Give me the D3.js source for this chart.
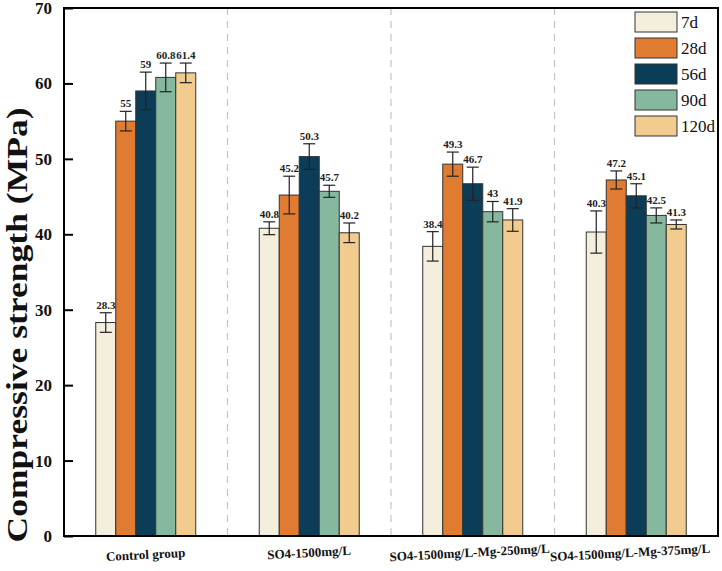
<!DOCTYPE html>
<html>
<head>
  <meta charset="utf-8">
  <title>Compressive strength</title>
  <script src="https://cdn.jsdelivr.net/npm/d3@7"></script>
  <style>
    body { margin: 0; background: #fff; }
    text { font-family: "Liberation Serif", "Times New Roman", serif; }
  </style>
</head>
<body>
  <svg width="722" height="571" id="mainsvg"></svg>
  <script>
    const svg = d3.select('#mainsvg');
    const margin = { top: 8, right: 4, bottom: 35, left: 64 };
    const width = +svg.attr('width');
    const height = +svg.attr('height');
    const innerWidth = width - margin.left - margin.right;
    const innerHeight = height - margin.top - margin.bottom;
    const g = svg.append('g').attr('transform', `translate(${margin.left}, ${margin.top})`);

    // data
    const groups = ['Control group', 'SO4-1500mg/L', 'SO4-1500mg/L-Mg-250mg/L', 'SO4-1500mg/L-Mg-375mg/L'];
    const ages = ['7d', '28d', '56d', '90d', '120d'];
    const colors = ['#F3EFDC', '#E07B32', '#0B3D59', '#86B8A0', '#F2CB8E'];
    const strength7d = [28.3, 40.8, 38.4, 40.3];
    const strength28d = [55, 45.2, 49.3, 47.2];
    const strength56d = [59, 50.3, 46.7, 45.1];
    const strength90d = [60.8, 45.7, 43, 42.5];
    const strength120d = [61.4, 40.2, 41.9, 41.3];
    const err7d = [1.3, 0.85, 1.95, 2.8];
    const err28d = [1.3, 2.5, 1.6, 1.2];
    const err56d = [2.5, 1.7, 2.2, 1.6];
    const err90d = [1.9, 0.8, 1.35, 1.0];
    const err120d = [1.3, 1.3, 1.5, 0.6];
    const yTicks = [0, 10, 20, 30, 40, 50, 60, 70];

    const values = [strength7d, strength28d, strength56d, strength90d, strength120d];
    const errors = [err7d, err28d, err56d, err90d, err120d];
    const bars = [];
    groups.forEach((grp, i) => {
      ages.forEach((age, j) => {
        bars.push({ group: grp, age: age, value: values[j][i], err: errors[j][i] });
      });
    });

    const xScale = d3.scaleBand().domain(groups).range([0, innerWidth]).padding(0);
    const xInner = d3.scaleBand().domain(ages).range([0, 100]).padding(0);
    const yScale = d3.scaleLinear().domain([0, 70]).range([innerHeight, 0]);
    const color = d3.scaleOrdinal().domain(ages).range(colors);

    // dashed separators between groups
    g.selectAll('.sep').data(groups.slice(1)).join('line').attr('class', 'sep')
      .attr('x1', d => xScale(d)).attr('x2', d => xScale(d))
      .attr('y1', 0).attr('y2', innerHeight)
      .attr('stroke', '#c4c4c4').attr('stroke-width', 1.2)
      .attr('stroke-dasharray', '7,6');

    const barX = d => xScale(d.group) + (xScale.bandwidth() - 100) / 2 + xInner(d.age);

    g.selectAll('.bar').data(bars).join('rect').attr('class', 'bar')
      .attr('x', barX)
      .attr('y', d => yScale(d.value))
      .attr('width', xInner.bandwidth())
      .attr('height', d => innerHeight - yScale(d.value))
      .attr('fill', d => color(d.age))
      .attr('stroke', '#333').attr('stroke-width', 1);

    // error bars
    const eb = g.selectAll('.err').data(bars).join('g').attr('class', 'err')
      .attr('transform', d => `translate(${barX(d) + xInner.bandwidth() / 2},0)`)
      .attr('stroke', '#222').attr('stroke-width', 1.2);
    eb.append('line').attr('y1', d => yScale(d.value + d.err)).attr('y2', d => yScale(d.value - d.err));
    eb.append('line').attr('x1', -6).attr('x2', 6)
      .attr('y1', d => yScale(d.value + d.err)).attr('y2', d => yScale(d.value + d.err));
    eb.append('line').attr('x1', -6).attr('x2', 6)
      .attr('y1', d => yScale(d.value - d.err)).attr('y2', d => yScale(d.value - d.err));

    // value labels
    g.selectAll('.val').data(bars).join('text').attr('class', 'val')
      .attr('x', d => barX(d) + xInner.bandwidth() / 2)
      .attr('y', d => yScale(d.value + d.err) - 4)
      .attr('text-anchor', 'middle')
      .attr('font-size', 11).attr('font-weight', 'bold').attr('fill', '#222')
      .text(d => d.value);

    // y axis
    const yAxis = d3.axisLeft(yScale).tickValues(yTicks).tickSize(-9).tickPadding(12);
    const yg = g.append('g').call(yAxis);
    yg.select('.domain').remove();
    yg.selectAll('line').attr('stroke', '#000').attr('stroke-width', 2);
    yg.selectAll('text').attr('font-size', 17).attr('font-weight', 'bold')
      .attr('font-family', '"Liberation Serif", serif').attr('fill', '#111');

    // frame
    g.append('rect').attr('x', 0).attr('y', 0)
      .attr('width', innerWidth).attr('height', innerHeight)
      .attr('fill', 'none').attr('stroke', '#000').attr('stroke-width', 2);

    // x labels
    const xShift = [0, 0, -3, -6];
    g.selectAll('.xlab').data(groups).join('text').attr('class', 'xlab')
      .attr('transform', (d, i) => `translate(${xScale(d) + xScale.bandwidth() / 2 + xShift[i]}, ${innerHeight + (i === 0 ? 23 : 21)}) rotate(-3)`)
      .attr('text-anchor', 'middle')
      .attr('font-size', 13).attr('font-weight', 'bold').attr('fill', '#111')
      .text(d => d);

    // y title
    svg.append('text')
      .attr('transform', 'translate(27, 325) rotate(-90)')
      .attr('text-anchor', 'middle')
      .attr('font-size', 30).attr('font-weight', 'bold').attr('fill', '#111')
      .attr('textLength', 435).attr('lengthAdjust', 'spacingAndGlyphs')
      .text('Compressive strength (MPa)');

    // legend
    const legend = svg.append('g').attr('transform', 'translate(635, 12)');
    const items = legend.selectAll('g').data(ages).join('g')
      .attr('transform', (d, i) => `translate(0, ${i * 26})`);
    items.append('rect').attr('width', 42).attr('height', 20)
      .attr('fill', d => color(d)).attr('stroke', '#333').attr('stroke-width', 1);
    items.append('text').attr('x', 46).attr('y', 16)
      .attr('font-size', 17).attr('fill', '#111').text(d => d);
  </script>
</body>
</html>
